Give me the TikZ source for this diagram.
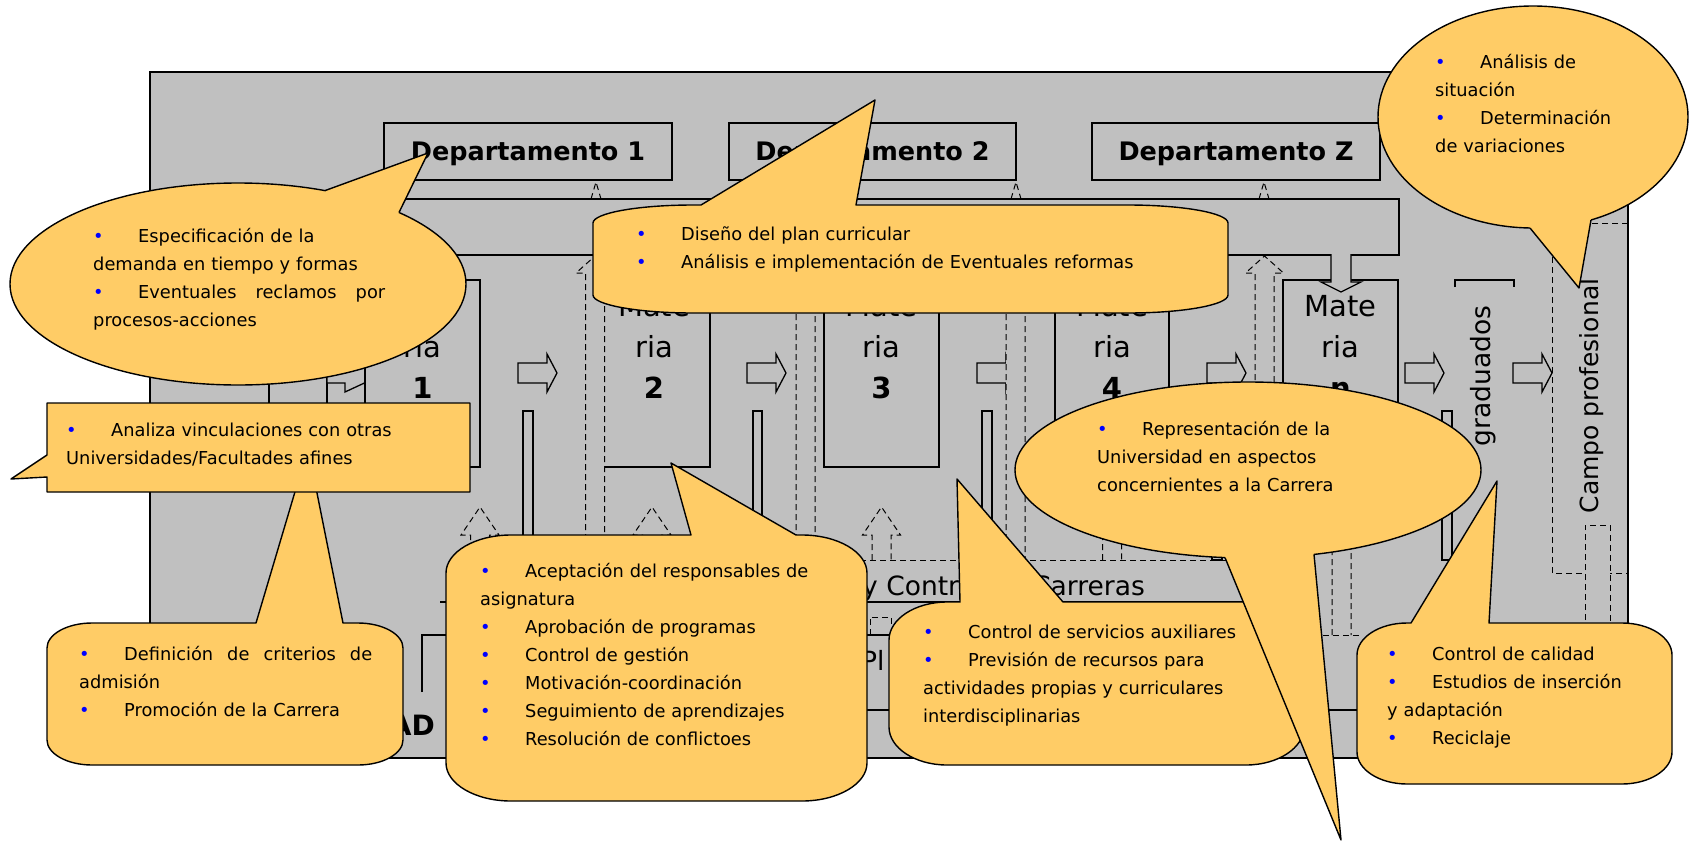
\documentclass[tikz,border=0pt]{standalone}
\usepackage{fontspec}
\setmainfont{DejaVu Sans}
\definecolor{bggray}{HTML}{C0C0C0}
\definecolor{callfill}{HTML}{FFCC66}
\definecolor{bblue}{HTML}{0000FF}
\newcommand{\bl}{\makebox[45pt][l]{\textcolor{bblue}{•}}}
\tikzset{
  outl/.style={draw=black, line width=1.3pt, fill=bggray},
  solidline/.style={draw=black, line width=1.3pt},
  dsh/.style={draw=black, line width=1pt, dash pattern=on 6pt off 4pt},
  dshfill/.style={dsh, fill=bggray},
  callout/.style={draw=black, line width=1.4pt, fill=callfill, line join=round},
  ctext/.style={font=\fontsize{17.8}{28}\selectfont, inner sep=0pt, anchor=base west, align=left},
  mattext/.style={font=\fontsize{29}{41}\selectfont, inner sep=0pt, anchor=base, align=center, text width=110pt},
  depttext/.style={font=\fontsize{25.5}{30}\selectfont\bfseries, inner sep=0pt, anchor=base},
  bigtext/.style={font=\fontsize{26.5}{32}\selectfont, inner sep=0pt}
}
% right block arrow: x0, yc
\newcommand{\rarrow}[2]{\draw[outl] (#1,#2-10) -- (#1+29,#2-10) -- (#1+29,#2-19) -- (#1+39,#2) -- (#1+29,#2+19) -- (#1+29,#2+10) -- (#1,#2+10) -- cycle;}
% dashed up arrow: cx, tip y, head base y, bottom y
\newcommand{\dup}[4]{\draw[dshfill] (#1-9.5,#4) -- (#1-9.5,#3) -- (#1-19,#3) -- (#1,#2) -- (#1+19,#3) -- (#1+9.5,#3) -- (#1+9.5,#4);}
% rounded callout with pointer on top edge: x1,y1,x2,y2,rx,ry,b1,b2,tip
\newcommand{\rrcall}[9]{\draw[callout] (#1,#2+#6) .. controls (#1,#2+0.45*#6) and (#1+0.45*#5,#2) .. (#1+#5,#2) -- (#7,#2) -- (#9) -- (#8,#2) -- (#3-#5,#2) .. controls (#3-0.45*#5,#2) and (#3,#2+0.45*#6) .. (#3,#2+#6) -- (#3,#4-#6) .. controls (#3,#4-0.45*#6) and (#3-0.45*#5,#4) .. (#3-#5,#4) -- (#1+#5,#4) .. controls (#1+0.45*#5,#4) and (#1,#4-0.45*#6) .. (#1,#4-#6) -- cycle;}
% elliptic callout: cx,cy,rx,ry,b1,b2,tip,in1,in2
\newcommand{\ellcall}[9]{\draw[callout] (#1,#2) ellipse [x radius=#3, y radius=#4];
  \fill[callfill] (#5) -- (#7) -- (#6) -- (#9) -- (#8) -- cycle;
  \draw[callout, fill=none] (#5) -- (#7) -- (#6);}
\begin{document}
\begin{tikzpicture}[x=1pt,y=-1pt]
\useasboundingbox (0,0) rectangle (1690,841);
% background
\draw[outl] (150,72) rectangle (1628,758);
% departments
\draw[outl] (384,123) rectangle (672,180);
\draw[outl] (729,123) rectangle (1016,180);
\draw[outl] (1092,123) rectangle (1380,180);
\node[depttext] (d1) at (528,160) {Departamento 1};
\node[depttext] (d2) at (872.5,160) {Departamento 2};
\node[depttext] (dz) at (1236,160) {Departamento Z};
\draw[dsh] (591,199) -- (596,182) -- (601,199);
\draw[dsh] (1011,199) -- (1016,182) -- (1021,199);
\draw[dsh] (1259,199) -- (1264,182) -- (1269,199);
% bar
\draw[outl] (260,199) rectangle (1399,255);
% left column box
\draw[outl] (269,280) rectangle (327,467);
% arrows between subjects
\draw[outl] (327,363) -- (345,363) -- (345,354) -- (386,373) -- (345,392) -- (345,383) -- (327,383) -- cycle;
\rarrow{518}{373}
\rarrow{747}{373}
\rarrow{977}{373}
\rarrow{1207}{373}
\rarrow{1405}{373}
\rarrow{1513}{373}
% subjects
\draw[outl] (365,280) rectangle (480,467);
\draw[outl] (603,280) rectangle (710,467);
\draw[outl] (824,280) rectangle (939,467);
\draw[outl] (1055,280) rectangle (1169,467);
\draw[outl] (1283,280) rectangle (1398,467);
\node[mattext] (m1) at (422.5,316) {Mate\\ria\\\textbf{1}};
\node[mattext] (m2) at (654,316) {Mate\\ria\\\textbf{2}};
\node[mattext] (m3) at (881.5,316) {Mate\\ria\\\textbf{3}};
\node[mattext] (m4) at (1112,316) {Mate\\ria\\\textbf{4}};
\node[mattext] (mn) at (1340.5,316) {Mate\\ria\\\textbf{n}};
% thin vertical bars
\draw[outl] (523,411) rectangle (533,560);
\draw[outl] (753,411) rectangle (762,560);
\draw[outl] (982,411) rectangle (992,560);
\draw[outl] (1212,411) rectangle (1222,560);
\draw[outl] (1442,411) rectangle (1452,560);
% dashed arrows up to the bar
\dup{595}{256}{273}{560}
\dup{805.5}{256}{273}{560}
\dup{1015.5}{256}{273}{560}
\dup{1264.5}{256}{273}{560}
% block arrow down into Materia n
\draw[outl] (1331,254) -- (1331,282) -- (1321,282) -- (1341,292) -- (1361,282) -- (1351,282) -- (1351,254);
% control box
\draw[solidline] (440,602) -- (1300,602);
\node[bigtext, anchor=base west] (ctrl) at (862,595) {y Control de Carreras};
% dashed arrows up to subjects
\dup{480}{507}{535}{560}
\dup{652}{507}{535}{560}
\dup{881.5}{507}{535}{560}
\dup{1112}{507}{535}{560}
\dup{1341.5}{470}{495}{635}
\draw[dsh] (1323,635) -- (1360,635);
\draw[dsh] (470,560) -- (1300,560);
\draw[dsh] (870,635) -- (870,617) -- (891,617) -- (891,635);
% lower box
\draw[solidline] (422,692) -- (422,635) -- (1300,635);
\draw[solidline] (446,710) -- (1628,710);
\node[bigtext, anchor=base west] (pl) at (861,670) {Pl};
\node[font=\fontsize{28}{32}\selectfont\bfseries, inner sep=0pt, anchor=base east] (univ) at (435,735) {AD};
% graduados
\draw[solidline] (1455,287) -- (1455,280) -- (1514,280) -- (1514,287);
\node[bigtext, rotate=90] (grad) at (1483,376) {graduados};
% campo profesional
\draw[dsh] (1628,223) -- (1552,223) -- (1552,573) -- (1628,573);
\draw[dshfill] (1585,640) -- (1585,525) -- (1610,525) -- (1610,640);
\node[bigtext, font=\fontsize{25}{30}\selectfont, rotate=90] (campo) at (1592,396) {Campo profesional};
% ---------------- callouts
\ellcall{238}{284}{228}{101}{325,190.6}{399,212.5}{428,153}{330,206}{392,224}
\node[ctext, text width=292pt] (t1) at (93,242) {\bl Especificación de la\\ demanda en tiempo y formas\\ \bl\hbox to 247pt{Eventuales\hfill reclamos\hfill por}\\ procesos-acciones};
\rrcall{593}{205}{1228}{313}{100}{18}{701}{856}{875,100}
\node[ctext, text width=560pt] (t2) at (636,240) {\bl Diseño del plan curricular\\ \bl Análisis e implementación de Eventuales reformas};
\ellcall{1533}{117}{155}{111}{1530,228}{1591,219.9}{1579,288}{1532,212}{1588,206}
\node[ctext, text width=240pt] (t8) at (1435,68) {\bl Análisis de\\ situación\\ \bl Determinación\\ de variaciones};
\rrcall{47}{623}{403}{765}{45}{25}{256}{343}{308,448}
\node[ctext, text width=293pt] (t4) at (79,660) {\bl\hbox to 248pt{Definición\hfill de\hfill criterios\hfill de}\\ admisión\\ \bl Promoción de la Carrera};
\draw[callout] (47,403) -- (470,403) -- (470,492) -- (47,492) -- (47,477) -- (11,479) -- (47,455) -- cycle;
\node[ctext, text width=400pt] (t3) at (66,436) {\bl Analiza vinculaciones con otras\\ Universidades/Facultades afines};
\rrcall{446}{535}{867}{801}{65}{38}{691}{796}{671,463}
\node[ctext, text width=380pt] (t5) at (480,577) {\bl Aceptación del responsables de\\ asignatura\\ \bl Aprobación de programas\\ \bl Control de gestión\\ \bl Motivación-coordinación\\ \bl Seguimiento de aprendizajes\\ \bl Resolución de conflictoes};
\rrcall{889}{602}{1304}{765}{58}{38}{960}{1063}{957,479}
\node[ctext, text width=380pt] (t6) at (923,638) {\bl Control de servicios auxiliares\\ \bl Previsión de recursos para\\ actividades propias y curriculares\\ interdisciplinarias};
\ellcall{1248}{470}{233}{88}{1225,557.6}{1314,554.4}{1341,840}{1228,543}{1310,541}
\node[ctext, text width=380pt] (t7) at (1097,435) {\bl Representación de la\\ Universidad en aspectos\\ concernientes a la Carrera};
\rrcall{1357}{623}{1672}{784}{50}{32}{1411}{1489}{1497,481}
\node[ctext, text width=300pt] (t9) at (1387,660) {\bl Control de calidad\\ \bl Estudios de inserción\\ y adaptación\\ \bl Reciclaje};
\end{tikzpicture}
\end{document}
